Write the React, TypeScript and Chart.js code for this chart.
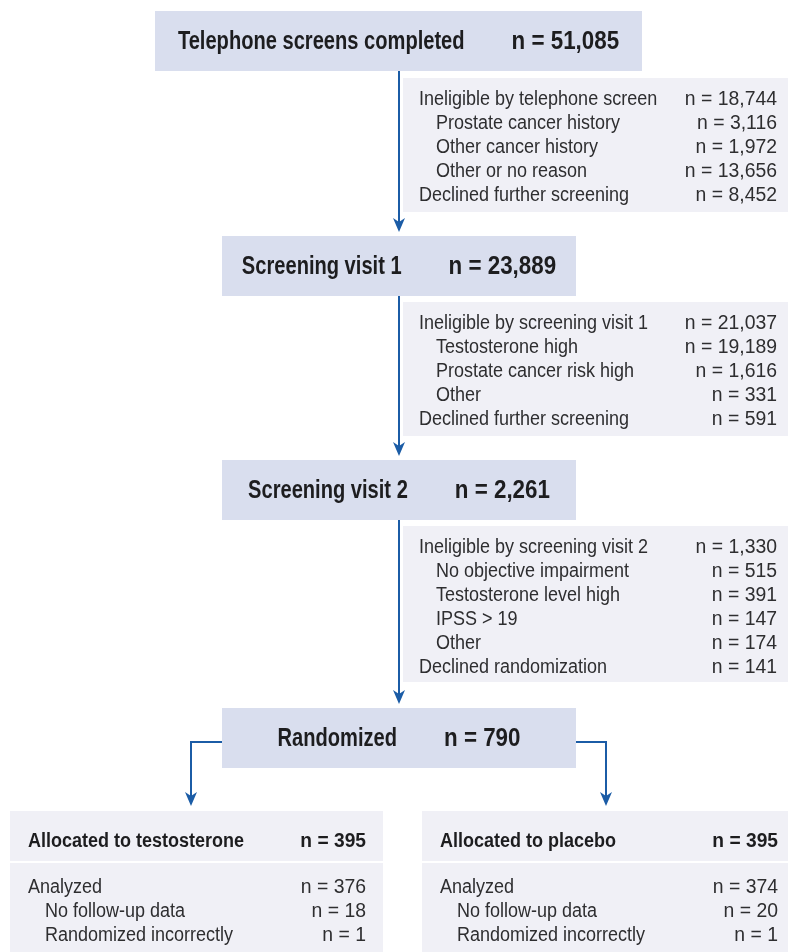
import React, { useEffect, useRef } from "react";
import { Chart, registerables } from "chart.js";

Chart.register(...registerables);

// ---- data ----
const stageLabels = ["Telephone screens completed", "Screening visit 1", "Screening visit 2", "Randomized"];
const stageCounts = [51085, 23889, 2261, 790];

const exclusion1Labels = ["Ineligible by telephone screen", "Prostate cancer history", "Other cancer history", "Other or no reason", "Declined further screening"];
const exclusion1Counts = [18744, 3116, 1972, 13656, 8452];
const exclusion1Indent = [0, 1, 1, 1, 0];

const exclusion2Labels = ["Ineligible by screening visit 1", "Testosterone high", "Prostate cancer risk high", "Other", "Declined further screening"];
const exclusion2Counts = [21037, 19189, 1616, 331, 591];
const exclusion2Indent = [0, 1, 1, 1, 0];

const exclusion3Labels = ["Ineligible by screening visit 2", "No objective impairment", "Testosterone level high", "IPSS > 19", "Other", "Declined randomization"];
const exclusion3Counts = [1330, 515, 391, 147, 174, 141];
const exclusion3Indent = [0, 1, 1, 1, 1, 0];

const armLabels = ["Allocated to testosterone", "Allocated to placebo"];
const armCounts = [395, 395];
const armDetailLabels = ["Analyzed", "No follow-up data", "Randomized incorrectly"];
const armDetailIndent = [0, 1, 1];
const testosteroneDetailCounts = [376, 18, 1];
const placeboDetailCounts = [374, 20, 1];

// ---- layout (in scale units) ----
const W = 788;
const H = 952;
const stageBoxes = [
  { x0: 155, x1: 642, y0: 11, y1: 71 },
  { x0: 222, x1: 576, y0: 236, y1: 296 },
  { x0: 222, x1: 576, y0: 460, y1: 520 },
  { x0: 222, x1: 576, y0: 708, y1: 768 },
];
const sideBoxes = [
  { x0: 403, x1: 800, y0: 78, y1: 212 },
  { x0: 403, x1: 800, y0: 302, y1: 436 },
  { x0: 403, x1: 800, y0: 526, y1: 682 },
];
const armBoxes = [
  { x0: 10, x1: 383 },
  { x0: 422, x1: 795 },
];
const armHeadY0 = 811;
const armHeadY1 = 861;
const armBodyY0 = 863;
const armBodyY1 = 970;
const spineX = 399;
const branchY = 742;
const branchX = [191, 606];
const armTipY = 806;

const STAGE_FILL = "#d9deee";
const SIDE_FILL = "#f0f0f6";
const ARROW = "#1b5ca6";
const TEXT_DARK = "#1d1d1f";
const TEXT = "#2e2e30";
const FAMILY = '"Liberation Sans", Arial, Helvetica, sans-serif';

function drawText(ctx: CanvasRenderingContext2D, text: string, x: number, y: number, align: string, font: string, sx: number, color: string) {
  ctx.save();
  ctx.font = font;
  ctx.fillStyle = color;
  ctx.textBaseline = "alphabetic";
  ctx.textAlign = "left";
  const w = ctx.measureText(text).width * sx;
  const left = align === "left" ? x : align === "right" ? x - w : x - w / 2;
  ctx.translate(left, y);
  ctx.scale(sx, 1);
  ctx.fillText(text, 0, 0);
  ctx.restore();
}

function textWidth(ctx: CanvasRenderingContext2D, text: string, font: string, sx: number) {
  ctx.save();
  ctx.font = font;
  const w = ctx.measureText(text).width * sx;
  ctx.restore();
  return w;
}

const fmt = (n: number) => "n = " + n.toLocaleString("en-US");

const flowPlugin = {
  id: "flowchart",
  afterDraw(chart: any) {
    const ctx: CanvasRenderingContext2D = chart.ctx;
    const xs = chart.scales.x;
    const ys = chart.scales.y;
    const px = (v: number) => xs.getPixelForValue(v);
    const py = (v: number) => ys.getPixelForValue(v);

    const rect = (x0: number, y0: number, x1: number, y1: number, fill: string) => {
      ctx.save();
      ctx.fillStyle = fill;
      ctx.fillRect(px(x0), py(y0), px(x1) - px(x0), py(y1) - py(y0));
      ctx.restore();
    };
    const line = (pts: number[][]) => {
      ctx.save();
      ctx.strokeStyle = ARROW;
      ctx.lineWidth = 2;
      ctx.beginPath();
      pts.forEach((p, i) => (i === 0 ? ctx.moveTo(px(p[0]), py(p[1])) : ctx.lineTo(px(p[0]), py(p[1]))));
      ctx.stroke();
      ctx.restore();
    };
    const head = (x: number, tipY: number) => {
      ctx.save();
      ctx.fillStyle = ARROW;
      ctx.beginPath();
      ctx.moveTo(px(x), py(tipY));
      ctx.lineTo(px(x - 6), py(tipY - 14));
      ctx.lineTo(px(x), py(tipY - 10));
      ctx.lineTo(px(x + 6), py(tipY - 14));
      ctx.closePath();
      ctx.fill();
      ctx.restore();
    };

    const titleFont = `bold 26px ${FAMILY}`;
    const titleLabelSx = 0.773;
    const titleValueSx = 0.86;
    const bodyFont = `20px ${FAMILY}`;
    const bodyLabelSx = 0.9;
    const bodyValueSx = 0.97;
    const armFont = `bold 20px ${FAMILY}`;
    const armLabelSx = 0.9;
    const armValueSx = 0.96;

    // spine arrows
    for (let i = 0; i < stageBoxes.length - 1; i++) {
      const from = stageBoxes[i].y1;
      const tip = stageBoxes[i + 1].y0 - 4;
      line([[spineX, from], [spineX, tip - 8]]);
      head(spineX, tip);
    }

    // stage boxes
    stageBoxes.forEach((b, i) => {
      rect(b.x0, b.y0, b.x1, b.y1, STAGE_FILL);
      const lab = stageLabels[i];
      const val = fmt(stageCounts[i]);
      const gap = 47;
      const wl = textWidth(ctx, lab, titleFont, titleLabelSx);
      const wv = textWidth(ctx, val, titleFont, titleValueSx);
      const cx = (px(b.x0) + px(b.x1)) / 2;
      const start = cx - (wl + gap + wv) / 2;
      const by = py(b.y0) + 38;
      drawText(ctx, lab, start, by, "left", titleFont, titleLabelSx, TEXT_DARK);
      drawText(ctx, val, start + wl + gap, by, "left", titleFont, titleValueSx, TEXT_DARK);
    });

    // side exclusion boxes
    const sides = [
      [exclusion1Labels, exclusion1Counts, exclusion1Indent],
      [exclusion2Labels, exclusion2Counts, exclusion2Indent],
      [exclusion3Labels, exclusion3Counts, exclusion3Indent],
    ] as [string[], number[], number[]][];
    sides.forEach(([labels, counts, indent], i) => {
      const b = sideBoxes[i];
      rect(b.x0, b.y0, b.x1, b.y1, SIDE_FILL);
      labels.forEach((lab, r) => {
        const y = py(b.y0 + 27 + r * 24);
        drawText(ctx, lab, px(419 + indent[r] * 17), y, "left", bodyFont, bodyLabelSx, TEXT);
        drawText(ctx, fmt(counts[r]), px(777), y, "right", bodyFont, bodyValueSx, TEXT);
      });
    });

    // branches
    const last = stageBoxes[stageBoxes.length - 1];
    line([[last.x0, branchY], [branchX[0], branchY], [branchX[0], armTipY - 8]]);
    head(branchX[0], armTipY);
    line([[last.x1, branchY], [branchX[1], branchY], [branchX[1], armTipY - 8]]);
    head(branchX[1], armTipY);

    // arm boxes
    const armDetails = [testosteroneDetailCounts, placeboDetailCounts];
    armBoxes.forEach((b, i) => {
      rect(b.x0, armHeadY0, b.x1, armHeadY1, SIDE_FILL);
      rect(b.x0, armBodyY0, b.x1, armBodyY1, SIDE_FILL);
      const left = b.x0 + 18;
      const right = b.x1 - 17;
      drawText(ctx, armLabels[i], px(left), py(armHeadY0 + 36), "left", armFont, armLabelSx, TEXT_DARK);
      drawText(ctx, fmt(armCounts[i]), px(right), py(armHeadY0 + 36), "right", armFont, armValueSx, TEXT_DARK);
      armDetailLabels.forEach((lab, r) => {
        const y = py(893 + r * 24);
        drawText(ctx, lab, px(left + armDetailIndent[r] * 17), y, "left", bodyFont, bodyLabelSx, TEXT);
        drawText(ctx, fmt(armDetails[i][r]), px(right), y, "right", bodyFont, bodyValueSx, TEXT);
      });
    });
  },
};

export default function App() {
  const canvasRef = useRef<HTMLCanvasElement | null>(null);

  useEffect(() => {
    const canvas = canvasRef.current;
    if (!canvas) return;
    const chart = new Chart(canvas, {
      type: "scatter",
      data: { datasets: [] },
      options: {
        animation: false,
        responsive: false,
        maintainAspectRatio: false,
        devicePixelRatio: 1,
        layout: { padding: 0 },
        plugins: { legend: { display: false }, tooltip: { enabled: false } },
        scales: {
          x: { type: "linear", min: 0, max: W, display: false },
          y: { type: "linear", min: 0, max: H, reverse: true, display: false },
        },
      },
      plugins: [flowPlugin],
    });
    return () => chart.destroy();
  }, []);

  return (
    <div style={{ position: "absolute", left: 0, top: 0, width: W, height: H, background: "#ffffff" }}>
      <canvas ref={canvasRef} width={W} height={H} style={{ display: "block", width: W, height: H }} />
    </div>
  );
}
